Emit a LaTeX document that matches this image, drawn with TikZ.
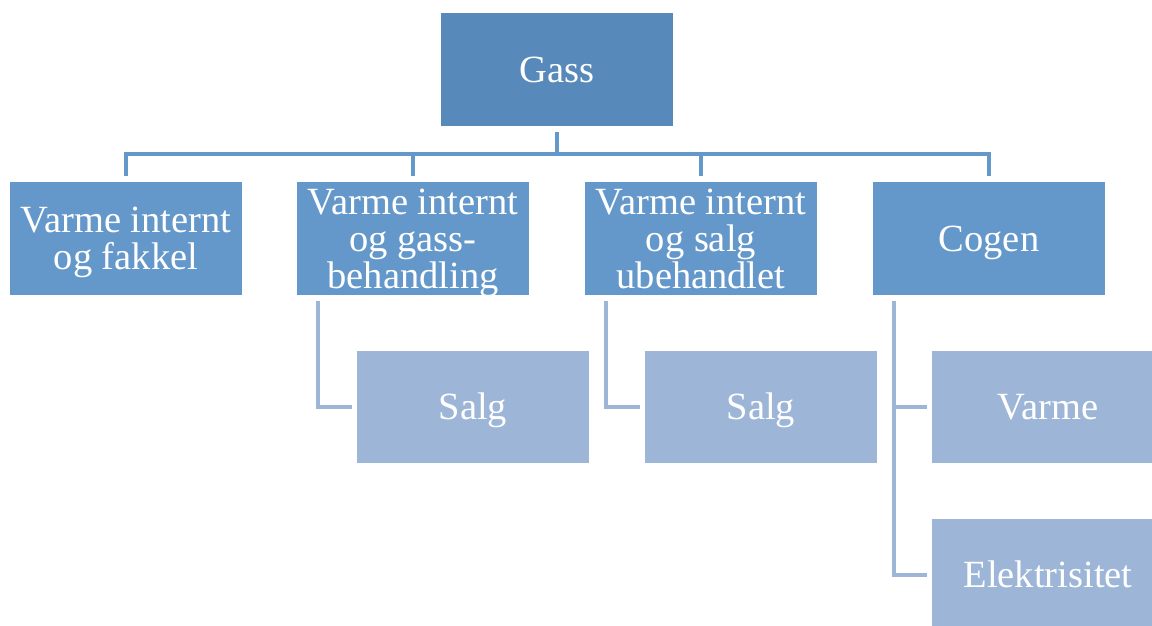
\documentclass[tikz,border=0pt]{standalone}
\usepackage{fontspec}
\setmainfont{Liberation Serif}
\definecolor{topfill}{RGB}{88,137,187}
\definecolor{midfill}{RGB}{101,152,202}
\definecolor{lowfill}{RGB}{157,181,214}
\newcommand{\lstrut}{\rule[-8.5pt]{0pt}{42pt}}
\tikzset{
  box/.style={rectangle, inner xsep=0pt, inner ysep=-4pt, minimum width=232pt, minimum height=113pt,
    align=center, text=white,
    font=\fontsize{38.5}{37}\selectfont,
    execute at begin node={\lineskiplimit=-100pt\relax}},
  topbox/.style={box, fill=topfill},
  midbox/.style={box, fill=midfill},
  lowbox/.style={box, fill=lowfill, minimum height=112pt},
  topconn/.style={draw=midfill, line width=4.5pt},
  lowconn/.style={draw=lowfill, line width=4.5pt}
}
\begin{document}
\begin{tikzpicture}[x=1pt,y=-1pt]
\useasboundingbox (0,0) rectangle (1152,626);
\node[topbox] (gass) at (557,69.5) {\lstrut Gass};
\node[midbox] (v1) at (126,238.5) {\lstrut Varme internt\\\lstrut og fakkel};
\node[midbox] (v2) at (413,238.5) {\lstrut Varme internt\\\lstrut og gass-\\\lstrut behandling};
\node[midbox] (v3) at (701,238.5) {\lstrut Varme internt\\\lstrut og salg\\\lstrut ubehandlet};
\node[midbox] (v4) at (989,238.5) {\lstrut Cogen};
\node[lowbox] (s1) at (473,407) {\lstrut Salg};
\node[lowbox] (s2) at (761,407) {\lstrut Salg};
\node[lowbox] (s3) at (1048,407) {\lstrut Varme};
\node[lowbox] (s4) at (1048,575) {\lstrut Elektrisitet};
\coordinate (bar) at (557,154);
% top connectors
\draw[topconn] ([yshift=-6pt]gass.south) -- (bar);
\draw[topconn] ([yshift=6pt]v1.north) |- (bar) -| ([yshift=6pt]v4.north);
\draw[topconn] ([yshift=6pt]v2.north) -- (v2.north |- bar);
\draw[topconn] ([yshift=6pt]v3.north) -- (v3.north |- bar);
% lower connectors
\draw[lowconn] ([xshift=21pt,yshift=-6pt]v2.south west) |- ([xshift=-5pt]s1.west);
\draw[lowconn] ([xshift=21pt,yshift=-6pt]v3.south west) |- ([xshift=-5pt]s2.west);
\draw[lowconn] ([xshift=21pt,yshift=-6pt]v4.south west) |- ([xshift=-5pt]s4.west);
\draw[lowconn] ([xshift=21pt]v4.south west |- s3.west) -- ([xshift=-5pt]s3.west);
\end{tikzpicture}
\end{document}
